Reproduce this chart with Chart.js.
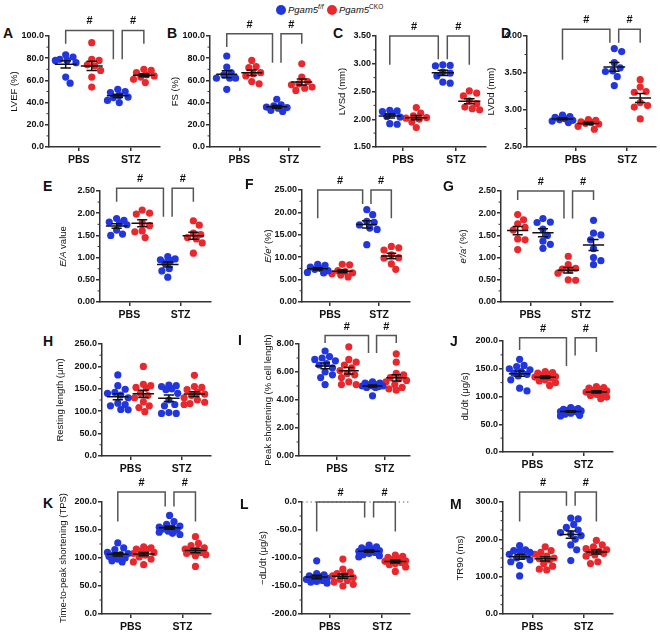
<!DOCTYPE html>
<html>
<head>
<meta charset="utf-8">
<script src="https://cdn.jsdelivr.net/npm/chart.js@4.4.1/dist/chart.umd.min.js"></script>
<style>
  body{margin:0;width:660px;height:633px;position:relative;overflow:hidden;background:#fff;
       font-family:"Liberation Sans",Arial,sans-serif;color:#111}
  canvas{position:absolute}
  .lt{position:absolute;font:bold 14px "Liberation Sans",Arial,sans-serif;line-height:16px;color:#111}
  .dot{position:absolute;width:10px;height:10px;border-radius:50%}
  .lg{position:absolute;top:3px;font:italic 9.5px "Liberation Sans",Arial,sans-serif;line-height:13px;white-space:nowrap}
  .lg sup{font-size:6.5px;vertical-align:4px;line-height:0}
</style>
</head>
<body>
<div class="dot" style="left:276px;top:5px;background:#2136dc"></div>
<div class="lg" style="left:288px">Pgam5<sup>f/f</sup></div>
<div class="dot" style="left:327px;top:5px;background:#e8282c"></div>
<div class="lg" style="left:339px">Pgam5<sup style="font-style:normal">CKO</sup></div>
<script>
const B = '#2136dc', R = '#e8282c';
const xLabels = ['PBS', 'STZ'];
const colorsFfCko = [B, R, B, R];
const colorsCkoFf = [R, B, R, B];   // panel G is drawn red first

// each panel: PBS f/f, PBS CKO, STZ f/f, STZ CKO (G: colours swapped)
const lvef = [[83,81,79,78,78,76,63,57.5],[94,79,78,74,73,69,63,54],[52,50,49,46.5,45,44.5,42,40],[70,69,67,65,64,63,61,58]];
const fs = [[82,72,67,65,62,62,62,52],[78,72.5,71.5,67,66,64,59,57],[43,38,37,36,35.5,35,33,32],[75,63,59,57,56,54,53,51]];
const lvsd = [[2.16,2.15,2.14,2.10,2.05,2.04,1.92,1.91],[2.21,2.11,2.06,2.03,2.02,2.00,1.95,1.85],[2.98,2.97,2.96,2.85,2.83,2.78,2.67,2.65],[2.51,2.47,2.42,2.33,2.28,2.22,2.19,2.17]];
const lvdd = [[2.93,2.91,2.90,2.88,2.87,2.86,2.85,2.83],[2.87,2.86,2.84,2.83,2.82,2.81,2.78,2.74],[3.83,3.79,3.64,3.57,3.53,3.52,3.45,3.33],[3.41,3.31,3.25,3.24,3.10,3.06,3.04,2.88]];
const ea = [[1.88,1.84,1.80,1.78,1.74,1.62,1.53,1.50],[2.07,2.00,1.98,1.78,1.72,1.60,1.58,1.45],[1.02,0.97,0.95,0.93,0.88,0.75,0.70,0.56],[1.83,1.73,1.55,1.52,1.45,1.42,1.33,1.10]];
const eePrime = [[8.4,8.2,7.8,7.5,7.3,7.0,6.6,6.5],[8.4,8.3,7.0,6.8,6.5,6.3,6.0,5.6],[20.6,19.5,18.0,17.8,17.2,16.5,16.2,12.8],[12.4,12.1,11.6,10.5,9.9,9.8,8.5,7.3]];
const eaPrime = [[1.97,1.85,1.76,1.68,1.62,1.42,1.40,1.18],[1.88,1.80,1.79,1.64,1.50,1.37,1.30,1.21],[1.03,0.84,0.76,0.74,0.72,0.65,0.50,0.49],[1.84,1.55,1.51,1.40,1.20,1.00,0.93,0.84]];
const restLen = [[181,157,149,142,140,136,130,118,115,112,104,103],[200,160,157,153,151,140,135,130,121,112,108,99],[158,157,155,150,148,140,125,115,112,97,95,95],[180,155,153,148,142,138,135,130,125,120,117,115]];
const peakShort = [[7.5,7.1,7.0,6.9,6.8,6.6,6.5,6.3,6.0,5.8,5.6,5.1],[7.8,6.9,6.7,6.5,6.3,6.1,5.9,5.8,5.6,5.3,5.1,5.1],[5.3,5.2,5.2,5.1,5.1,5.0,5.0,5.0,4.95,4.9,4.9,4.3],[7.3,6.7,5.9,5.8,5.6,5.5,5.4,5.3,5.1,4.9,4.8,4.7]];
const dldt = [[167,156,154,150,148,145,142,140,137,130,115,110],[145,143,142,140,138,136,135,133,130,128,125,120],[80,78,77,76,75,74,73,72,70,68,66,65],[118,116,115,113,111,110,108,106,104,102,99,96]];
const tps = [[127,118,115,110,108,106,105,103,100,98,95,93],[120,118,116,115,112,110,108,105,102,98,93,88],[176,165,160,157,155,154,152,150,148,146,144,142],[138,126,122,118,116,114,112,110,108,106,104,85]];
const negDldt = [[-105,-128,-130,-132,-133,-135,-136,-138,-140,-142,-143,-145],[-102,-120,-125,-128,-130,-132,-135,-138,-140,-143,-147,-150],[-77,-80,-82,-84,-85,-87,-88,-90,-92,-94,-96,-98],[-95,-97,-99,-101,-103,-105,-106,-108,-110,-112,-116,-124]];
const tr90 = [[183,172,170,168,165,160,155,150,145,140,130,102],[180,170,165,160,155,150,148,145,135,128,120,118],[257,255,240,232,225,218,215,210,200,185,172,143],[197,185,180,175,172,168,165,162,158,155,140,135]];

// significance brackets: [from group, to group, top, left leg end, right leg end]
const lvefBr = [[1,2.83,105,93,79],[3.17,4,105,79,93]];
const fsBr = [[1,2.83,102,90,76],[3.17,4,102,76,93]];
const lvsdBr = [[1,2.83,3.5,2.98,3.08],[3.17,4,3.5,3.08,2.98]];
const lvddBr = [[1,2.83,4.09,3.68,3.91],[3.17,4,4.09,3.91,3.91]];
const eaBr = [[1,2.83,2.56,2.26,1.92],[3.17,4,2.56,1.92,2.26]];
const eePrimeBr = [[1,2.83,25,18.7,21.9],[3.17,4,25,21.9,18.7]];
const eaPrimeBr = [[1,2.83,2.5,2.3,1.88],[3.17,4,2.5,1.88,2.3]];
const peakShortBr = [[1,2.83,8.6,8.07,7.35],[3.17,4,8.6,7.35,8.07]];
const dldtBr = [[1,2.83,206,184,155],[3.17,4,206,174,180]];
const tpsBr = [[1,2.83,218,165,192],[3.17,4,218,192,165]];
const negDldtBr = [[1,2.83,0,-52.5,-27.5],[3.17,4,0,-27.5,-52.5]];
const tr90Br = [[1,2.83,327,248,290],[3.17,4,327,290,248]];

// y titles: text between * * is italic
const panels = [
  {k:'A',lx:3,ly:33, d:lvef,c:colorsFfCko,t:'LVEF (%)',min:0,max:100,step:20,dec:1,minor:2,ax:49,top:36,bot:147,right:162,xmin:0.36,xmax:4.62,toff:35,br:lvefBr},
  {k:'B',lx:167,ly:33, d:fs,c:colorsFfCko,t:'FS (%)',min:0,max:100,step:20,dec:1,minor:2,ax:210,top:36,bot:147,right:322,xmin:0.33,xmax:4.73,toff:35,br:fsBr},
  {k:'C',lx:333,ly:33, d:lvsd,c:colorsFfCko,t:'LVSd (mm)',min:1.5,max:3.5,step:0.5,dec:2,minor:2,ax:376,top:36,bot:147,right:488,xmin:0.48,xmax:4.63,toff:34,br:lvsdBr},
  {k:'D',lx:501,ly:33, d:lvdd,c:colorsFfCko,t:'LVDd (mm)',min:2.5,max:4,step:0.5,dec:2,minor:2,ax:527,top:36,bot:147,right:658,xmin:-0.37,xmax:4.61,toff:36,br:lvddBr},
  {k:'E',lx:43,ly:186, d:ea,c:colorsFfCko,t:'*E/A* value',min:0,max:2.5,step:0.5,dec:2,minor:2,ax:100,top:191,bot:302,right:213,xmin:0.35,xmax:4.69,toff:37,br:eaBr},
  {k:'F',lx:245,ly:184, d:eePrime,c:colorsFfCko,t:"*E/e′* (%)",min:0,max:25,step:5,dec:2,minor:2,ax:302,top:190,bot:302,right:412,xmin:0.36,xmax:4.76,toff:34,br:eePrimeBr},
  {k:'G',lx:443,ly:186, d:eaPrime,c:colorsCkoFf,t:"*e′/a′* (%)",min:0,max:2.5,step:0.5,dec:2,minor:2,ax:501,top:191,bot:302,right:615,xmin:0.34,xmax:4.77,toff:38,br:eaPrimeBr},
  {k:'H',lx:43,ly:341, d:restLen,c:colorsFfCko,t:'Resting length (μm)',min:0,max:250,step:50,dec:1,minor:2,ax:102,top:344,bot:456,right:213,xmin:0.38,xmax:4.65,toff:42,br:[]},
  {k:'I',lx:238,ly:340, d:peakShort,c:colorsFfCko,t:'Peak shortening (% cell length)',min:0,max:8,step:2,dec:2,minor:2,ax:299,top:344,bot:456,right:412,xmin:-0.1,xmax:4.58,toff:31,br:peakShortBr},
  {k:'J',lx:450,ly:341, d:dldt,c:colorsFfCko,t:'dL/dt (μg/s)',min:0,max:200,step:50,dec:1,minor:2,ax:503,top:341,bot:452,right:615,xmin:0.35,xmax:4.65,toff:38,br:dldtBr},
  {k:'K',lx:43,ly:503, d:tps,c:colorsFfCko,t:'Time-to-peak shortening (TPS)',min:0,max:200,step:50,dec:1,minor:2,ax:102,top:502,bot:614,right:213,xmin:0.39,xmax:4.6,toff:39,br:tpsBr},
  {k:'L',lx:240,ly:504, d:negDldt,c:colorsFfCko,t:'−dL/dt (μg/s)',min:-200,max:0,step:50,dec:1,minor:2,ax:302,top:502,bot:614,right:412,xmin:0.44,xmax:4.56,toff:39,br:negDldtBr,zero:true},
  {k:'M',lx:450,ly:504, d:tr90,c:colorsFfCko,t:'TR90 (ms)',min:0,max:300,step:100,dec:1,minor:4,ax:503,top:502,bot:614,right:615,xmin:0.35,xmax:4.65,toff:43,br:tr90Br}
];

const PAD_TOP = 34, X_H = 24, AXC = '#333';
const FAM = '"Liberation Sans", Arial, sans-serif';

// deterministic beeswarm, kept within ±11 px of the group centre (dots may overlap, as in Prism)
function swarm(vals, pyu, pxu){
  const dmin = 7, lim = 11, placed = [], off = vals.map(()=>0);
  const order = vals.map((v,i)=>i).sort((a,b)=>vals[b]-vals[a]);
  order.forEach(i=>{
    const py = vals[i]*pyu;
    let best = 0, bestD = -1;
    for(let k=0;;k++){
      const cand = k===0 ? 0 : (k%2 ? 1 : -1)*Math.ceil(k/2)*1.5;
      if(Math.abs(cand) > lim) break;
      const md = placed.reduce((m,p)=>Math.min(m, Math.hypot(p.x-cand, p.y-py)), Infinity);
      if(md >= dmin){ best = cand; break; }
      if(md > bestD){ bestD = md; best = cand; }
    }
    placed.push({x:best, y:py});
    off[i] = best/pxu;
  });
  return off;
}

function extras(p, W){
  return {
    id:'extras'+p.k,
    afterDatasetsDraw(chart){
      const {ctx, chartArea:ca, scales:{x, y}} = chart;
      ctx.save();
      // y title with italic parts
      const segs = p.t.split('*').map((s,i)=>({s, it: i%2===1})).filter(o=>o.s);
      const fnt = o => (o.it ? 'italic ' : '') + '9.5px ' + FAM;
      let tw = 0; segs.forEach(o=>{ ctx.font = fnt(o); tw += ctx.measureText(o.s).width; });
      ctx.save();
      ctx.translate(ca.left - W + 5.4, (ca.top + ca.bottom)/2);
      ctx.rotate(-Math.PI/2);
      ctx.fillStyle = '#111'; ctx.textBaseline = 'middle'; ctx.textAlign = 'left';
      let tx = -tw/2;
      segs.forEach(o=>{ ctx.font = fnt(o); ctx.fillText(o.s, tx, 0); tx += ctx.measureText(o.s).width; });
      ctx.restore();
      // minor y ticks
      ctx.strokeStyle = AXC; ctx.lineWidth = 1;
      const ms = p.step/p.minor;
      for(let k=0; p.min + k*ms <= p.max + 1e-9; k++){
        if(k % p.minor === 0) continue;
        const py = y.getPixelForValue(p.min + k*ms);
        ctx.beginPath(); ctx.moveTo(ca.left, py); ctx.lineTo(ca.left-2.5, py); ctx.stroke();
      }
      if(p.zero){
        const py = y.getPixelForValue(0);
        ctx.save(); ctx.setLineDash([1.2,3]); ctx.strokeStyle = '#555';
        ctx.beginPath(); ctx.moveTo(ca.left-4, py); ctx.lineTo(ca.right, py); ctx.stroke();
        ctx.restore();
      }
      // mean ± SEM
      ctx.strokeStyle = '#111'; ctx.lineWidth = 1.5;
      p.d.forEach((vals, g)=>{
        const n = vals.length, m = vals.reduce((a,b)=>a+b,0)/n;
        const sd = Math.sqrt(vals.reduce((a,b)=>a+(b-m)**2,0)/(n-1)), se = sd/Math.sqrt(n);
        const cx = x.getPixelForValue(g+1), hw = x.getPixelForValue(g+1.42)-cx, cw = x.getPixelForValue(g+1.2)-cx;
        const ym = y.getPixelForValue(m), y1 = y.getPixelForValue(m+se), y2 = y.getPixelForValue(m-se);
        ctx.beginPath();
        ctx.moveTo(cx-hw, ym); ctx.lineTo(cx+hw, ym);
        ctx.moveTo(cx, y1); ctx.lineTo(cx, y2);
        ctx.moveTo(cx-cw, y1); ctx.lineTo(cx+cw, y1);
        ctx.moveTo(cx-cw, y2); ctx.lineTo(cx+cw, y2);
        ctx.stroke();
      });
      // brackets
      ctx.strokeStyle = '#555'; ctx.lineWidth = 1.5; ctx.fillStyle = '#111';
      ctx.font = 'bold 11px ' + FAM;
      ctx.textAlign = 'center'; ctx.textBaseline = 'middle';
      p.br.forEach(([a, b, top, la, lb])=>{
        const x1 = x.getPixelForValue(a), x2 = x.getPixelForValue(b), yt = y.getPixelForValue(top);
        ctx.beginPath();
        ctx.moveTo(x1, y.getPixelForValue(la)); ctx.lineTo(x1, yt);
        ctx.lineTo(x2, yt); ctx.lineTo(x2, y.getPixelForValue(lb));
        ctx.stroke();
        ctx.fillText('#', (x1+x2)/2, yt-9);
      });
      ctx.restore();
    }
  };
}

panels.forEach(p=>{
  const lt = document.createElement('div');
  lt.className = 'lt'; lt.textContent = p.k;
  lt.style.left = p.lx+'px'; lt.style.top = (p.ly-8)+'px';
  document.body.appendChild(lt);

  const W = Math.round(p.toff + 5.4);
  const cv = document.createElement('canvas');
  const cw = W + (p.right - p.ax) + 2, ch = PAD_TOP + (p.bot - p.top) + X_H;
  cv.width = cw; cv.height = ch;
  cv.style.left = (p.ax - W)+'px'; cv.style.top = (p.top - PAD_TOP)+'px';
  cv.style.width = cw+'px'; cv.style.height = ch+'px';
  document.body.appendChild(cv);

  const pyu = (p.bot - p.top)/(p.max - p.min), pxu = (p.right - p.ax)/(p.xmax - p.xmin);
  const datasets = p.d.map((vals, g)=>{
    const off = swarm(vals, pyu, pxu);
    return {
      data: vals.map((v,i)=>({x: g+1+off[i], y: v})),
      backgroundColor: p.c[g], borderWidth: 0, pointRadius: 3.6, clip: false
    };
  });

  new Chart(cv, {
    type: 'scatter',
    data: {datasets},
    options: {
      responsive: false, animation: false, devicePixelRatio: 1,
      layout: {padding: {top: PAD_TOP, left: 0, right: 2, bottom: 0}},
      plugins: {legend: {display: false}, tooltip: {enabled: false}},
      scales: {
        x: {
          type: 'linear', min: p.xmin, max: p.xmax,
          afterBuildTicks: s => { s.ticks = [{value: 1.5}, {value: 3.5}]; },
          afterFit: s => { s.height = X_H; },
          ticks: {autoSkip: false, maxRotation: 0, padding: 3, color: '#111',
                  font: {family: FAM, size: 10.5, weight: 'bold'},
                  callback: (v, i) => xLabels[i]},
          grid: {drawOnChartArea: false, tickLength: 4, color: AXC, lineWidth: 1.5},
          border: {color: AXC, width: 1.5}
        },
        y: {
          min: p.min, max: p.max,
          afterFit: s => { s.width = W; },
          ticks: {stepSize: p.step, padding: 1, color: '#111',
                  font: {family: FAM, size: 9, weight: 'bold'},
                  callback: v => Number(v).toFixed(p.dec)},
          grid: {drawOnChartArea: false, tickLength: 4, color: AXC, lineWidth: 1.5},
          border: {color: AXC, width: 1.5},
          title: {display: false}
        }
      }
    },
    plugins: [extras(p, W)]
  });
});
</script>
</body>
</html>
